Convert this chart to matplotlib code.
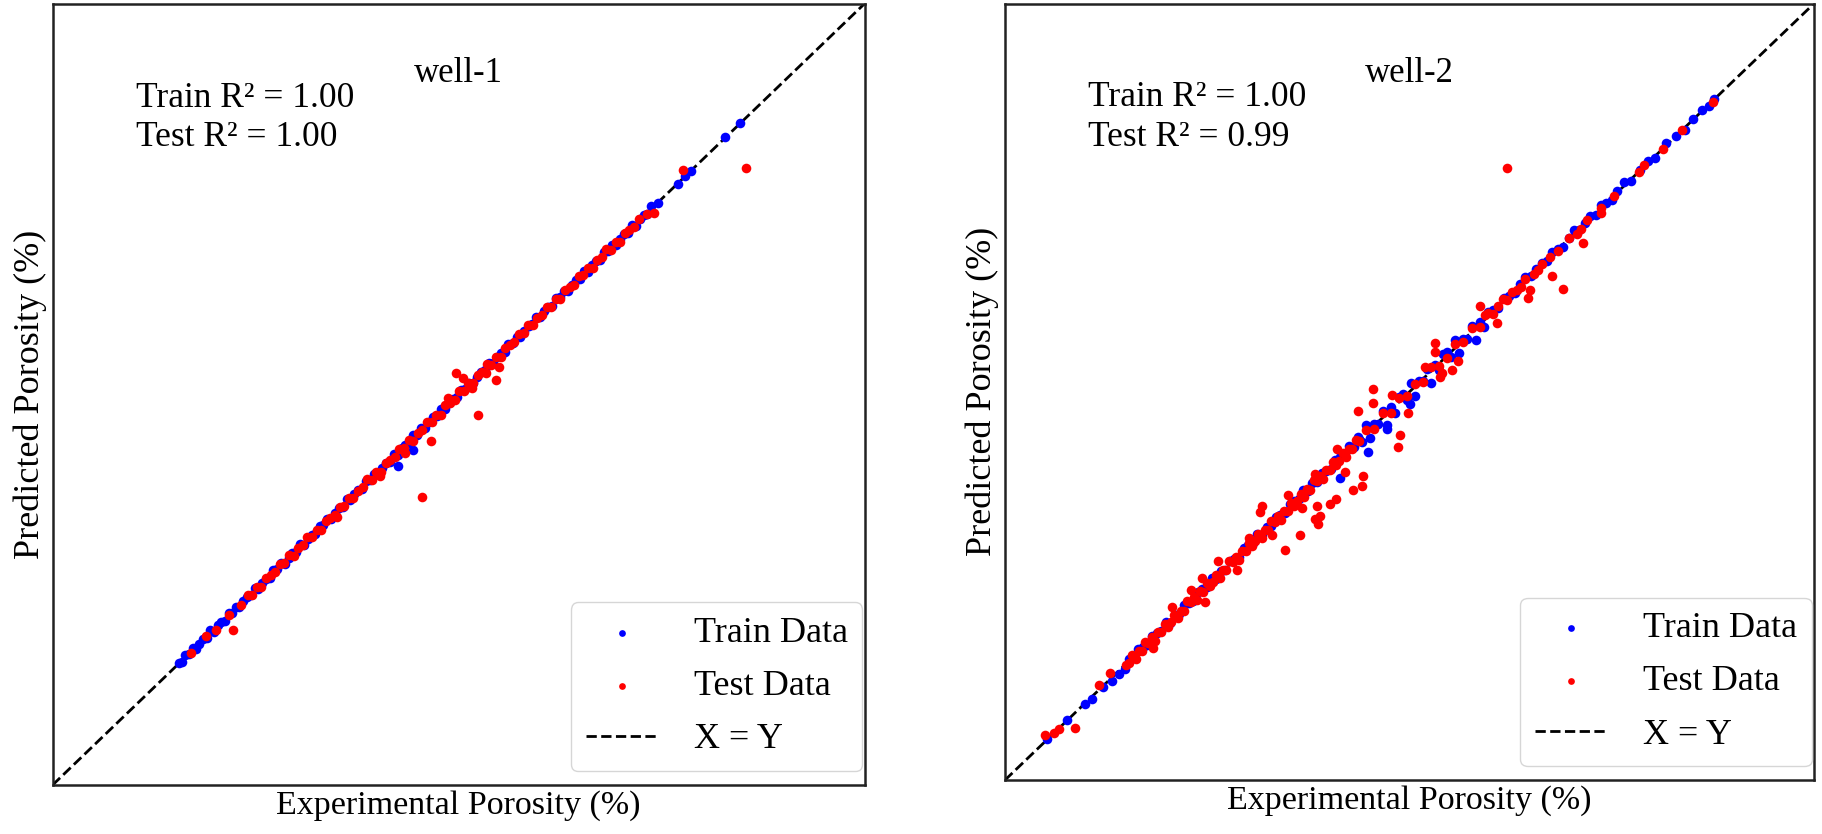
import matplotlib
matplotlib.use('Agg')
import matplotlib.pyplot as plt

plt.rcParams['font.family'] = ['Liberation Serif', 'DejaVu Serif']

# 轴范围（孔隙度 %）
lim = [0, 30]

# ---------- well-1 ----------
w1_train_x = [4.65, 4.78, 4.9, 5.04, 5.17, 5.3, 5.42, 5.55, 5.69, 5.83, 5.96, 6.1, 6.22, 6.36, 6.5, 6.63,
              6.77, 6.9, 7.05, 7.18, 7.32, 7.46, 7.6, 7.73, 7.88, 8.02, 8.15, 8.3, 8.44, 8.58, 8.72, 8.86,
              9.0, 9.15, 9.28, 9.43, 9.57, 9.71, 9.86, 10.0, 10.14, 10.29, 10.43, 10.57, 10.72, 10.86,
              11.0, 11.15, 11.29, 11.44, 11.58, 11.72, 11.87, 12.01, 12.16, 12.3, 12.45, 12.6, 12.74,
              12.89, 13.03, 13.18, 13.33, 13.47, 13.62, 13.77, 13.91, 14.06, 14.2, 14.35, 14.5, 14.64,
              14.79, 14.94, 15.08, 15.23, 15.38, 15.52, 15.67, 15.82, 15.96, 16.11, 16.26, 16.4, 16.55,
              16.7, 16.84, 16.99, 17.14, 17.28, 17.43, 17.58, 17.72, 17.87, 18.02, 18.16, 18.31, 18.46,
              18.6, 18.75, 18.9, 19.04, 19.19, 19.34, 19.48, 19.63, 19.78, 19.92, 20.07, 20.22, 20.36,
              20.51, 20.66, 20.8, 20.95, 21.1, 21.24, 21.39, 21.54, 21.68, 21.83, 21.97, 22.12, 22.35,
              23.1, 23.35, 23.6, 24.85, 25.4, 12.77, 13.32]
w1_train_y = [4.69, 4.72, 4.99, 5.02, 5.24, 5.22, 5.43, 5.6, 5.65, 5.93, 5.89, 6.13, 6.26, 6.3, 6.59, 6.61,
              6.84, 6.82, 7.06, 7.23, 7.28, 7.56, 7.53, 7.76, 7.92, 7.96, 8.24, 8.28, 8.51, 8.5, 8.73, 8.91,
              8.96, 9.25, 9.21, 9.46, 9.61, 9.65, 9.95, 9.98, 10.21, 10.21, 10.44, 10.62, 10.68, 10.96,
              10.93, 11.18, 11.33, 11.38, 11.67, 11.7, 11.94, 11.93, 12.17, 12.35, 12.41, 12.7, 12.67,
              12.92, 13.07, 13.12, 13.42, 13.45, 13.69, 13.69, 13.92, 14.11, 14.16, 14.45, 14.43, 14.67,
              14.83, 14.88, 15.17, 15.21, 15.45, 15.44, 15.68, 15.87, 15.92, 16.21, 16.19, 16.43, 16.59,
              16.64, 16.93, 16.97, 17.21, 17.2, 17.44, 17.63, 17.68, 17.97, 17.95, 18.19, 18.35, 18.4,
              18.69, 18.73, 18.97, 18.96, 19.2, 19.39, 19.44, 19.73, 19.71, 19.95, 20.11, 20.16, 20.45,
              20.49, 20.73, 20.72, 20.96, 21.15, 21.2, 21.49, 21.47, 21.71, 21.87, 21.91, 22.21, 22.33,
              23.08, 23.37, 23.58, 24.87, 25.41, 12.24, 12.86]

w1_test_x = [5.12, 5.65, 6.05, 6.5, 6.95, 7.2, 7.37, 7.54, 7.71, 7.88, 8.05, 8.22, 8.39, 8.56, 8.73, 8.9,
             9.07, 9.24, 9.41, 9.58, 9.75, 9.92, 10.09, 10.26, 10.43, 10.6, 10.77, 10.94, 11.11, 11.28,
             11.45, 11.62, 11.79, 11.96, 12.13, 12.3, 12.47, 12.64, 12.81, 12.98, 13.15, 13.32, 13.49,
             13.66, 13.83, 14.0, 14.17, 14.34, 14.51, 14.68, 14.85, 15.02, 15.19, 15.36, 15.53, 15.7,
             15.87, 16.04, 16.21, 16.38, 16.55, 16.72, 16.89, 17.06, 17.23, 17.4, 17.57, 17.74, 17.91,
             18.08, 18.25, 18.42, 18.59, 18.76, 18.93, 19.1, 19.27, 19.44, 19.61, 19.78, 19.95, 20.12,
             20.29, 20.46, 20.63, 20.8, 20.97, 21.14, 21.31, 21.48, 21.65, 21.95, 22.2,
             6.68, 13.64, 13.97, 14.9, 15.15, 16.5, 16.38, 15.72, 23.3, 25.6,
             14.6, 16.0, 15.5, 10.5, 12.1, 13.0]
w1_test_y = [5.07, 5.73, 5.95, 6.52, 6.92, 7.31, 7.29, 7.59, 7.59, 7.94, 8.05, 8.16, 8.48, 8.51, 8.81, 8.8,
             9.09, 9.21, 9.52, 9.5, 9.8, 9.8, 10.15, 10.26, 10.37, 10.69, 10.72, 11.02, 11.01, 11.3,
             11.42, 11.73, 11.71, 12.01, 12.01, 12.36, 12.47, 12.58, 12.9, 12.93, 13.23, 13.22, 13.51,
             13.63, 13.94, 13.92, 14.22, 14.22, 14.57, 14.68, 14.79, 15.11, 15.14, 15.44, 15.43, 15.72,
             15.84, 16.15, 16.13, 16.43, 16.43, 16.78, 16.89, 17.0, 17.32, 17.35, 17.65, 17.64, 17.93,
             18.05, 18.36, 18.34, 18.64, 18.64, 18.99, 19.1, 19.21, 19.53, 19.56, 19.86, 19.85, 20.14,
             20.26, 20.57, 20.55, 20.85, 20.85, 21.2, 21.31, 21.42, 21.74, 21.9, 21.95,
             5.94, 11.04, 13.22, 15.8, 15.63, 16.05, 15.54, 14.19, 23.6, 23.7,
             14.85, 15.8, 15.25, 10.3, 11.85, 12.75]

# ---------- well-2 ----------
w2_train_x = [1.55, 2.3, 2.98, 3.22, 3.65, 3.97, 4.21, 4.46,
              4.6, 4.77, 4.94, 5.11, 5.28, 5.45, 5.62, 5.79, 5.96, 6.13, 6.3, 6.47, 6.64, 6.81, 6.98,
              7.15, 7.32, 7.49, 7.66, 7.83, 8.0, 8.17, 8.34, 8.51, 8.68, 8.85, 9.02, 9.19, 9.36, 9.53,
              9.7, 9.87, 10.04, 10.21, 10.38, 10.55, 10.72, 10.89, 11.06, 11.23, 11.4, 11.57, 11.74,
              11.91, 12.08, 12.25, 12.42, 12.59, 12.76, 12.93,
              13.1, 13.25, 13.4, 13.55, 13.7, 13.85, 14.0, 14.15, 14.3, 14.45, 14.6, 14.75, 14.9, 15.05,
              15.2, 15.35, 15.5, 15.65, 15.8, 15.95, 16.1, 16.25, 16.4, 16.55, 16.7, 16.85, 17.0, 17.15,
              17.3, 17.45, 17.6, 17.75, 17.9, 15.02, 14.15, 13.47, 12.43,
              18.1, 18.3, 18.5, 18.7, 18.9, 19.1, 19.3, 19.5, 19.7, 19.9, 20.1, 20.3, 20.5, 20.7, 20.9,
              21.1, 21.3, 21.5, 21.7, 21.9, 22.1, 22.3, 22.5, 22.7, 22.95, 23.2, 23.55, 23.85, 24.1,
              24.5, 24.9, 25.2, 25.5, 25.85, 26.1, 26.3]
w2_train_y = [1.6, 2.33, 2.93, 3.13, 3.58, 3.83, 4.09, 4.28,
              4.68, 4.73, 5.06, 5.13, 5.21, 5.55, 5.67, 5.77, 6.09, 6.08, 6.38, 6.43, 6.76, 6.83, 6.91,
              7.25, 7.37, 7.47, 7.79, 7.78, 8.08, 8.13, 8.46, 8.53, 8.61, 8.95, 9.07, 9.17, 9.49, 9.48,
              9.78, 9.83, 10.16, 10.23, 10.31, 10.65, 10.77, 10.87, 11.19, 11.18, 11.48, 11.53, 11.86,
              11.93, 12.01, 12.35, 12.47, 12.57, 12.89, 12.88,
              13.25, 13.05, 13.7, 13.2, 13.75, 13.75, 14.25, 13.7, 14.4, 14.2, 14.8, 14.9, 14.7, 15.35,
              14.85, 15.4, 15.4, 15.9, 15.35, 16.05, 15.85, 16.45, 16.55, 16.35, 17.0, 16.5, 17.05, 17.05,
              17.55, 17.0, 17.7, 17.5, 18.1, 14.51, 13.55, 12.69, 11.68,
              18.18, 18.25, 18.62, 18.7, 18.8, 19.16, 19.45, 19.46, 19.73, 19.98, 20.05, 20.42, 20.5,
              20.6, 20.96, 21.25, 21.26, 21.53, 21.78, 21.85, 22.22, 22.3, 22.4, 22.76, 23.1, 23.16,
              23.58, 23.93, 24.05, 24.62, 24.9, 25.1, 25.56, 25.9, 26.06, 26.33]

w2_test_x = [1.5, 1.8, 1.99, 2.6, 3.47, 3.88, 4.5,
             4.6, 4.72, 4.84, 4.96, 5.08, 5.2, 5.32, 5.44, 5.56, 5.68, 5.8, 5.92, 6.04, 6.16, 6.28, 6.4,
             6.52, 6.64, 6.76, 6.88, 7.0, 7.12, 7.24, 7.36, 7.48, 7.6, 7.72, 7.84, 7.96, 8.08, 8.2,
             8.32, 8.44, 8.56, 8.68, 8.8, 8.92, 9.04, 9.16, 9.28, 9.4, 9.52, 9.64, 9.76, 9.88, 10.0,
             10.12, 10.24, 10.36, 10.48, 10.6, 10.72, 10.84, 10.96, 11.08, 11.2, 11.32, 11.44, 11.56,
             11.68, 11.8, 11.92, 12.04, 12.16, 12.28, 12.4, 12.52, 12.64, 12.76, 12.88, 13.0, 13.12,
             6.2, 7.9, 8.6, 9.9, 10.5, 5.5, 6.9, 11.0, 12.3, 12.6,
             7.3, 7.42, 9.46, 9.06, 10.39, 10.94, 11.5, 11.62, 12.05, 12.28, 11.5, 9.52, 11.56, 11.69,
             12.92, 13.29, 13.23,
             13.4, 13.7, 14.0, 14.3, 14.6, 14.9, 15.2, 15.5, 15.8, 16.1, 16.4, 16.7, 17.0, 17.3, 17.6,
             17.9, 13.66, 13.66, 13.1, 14.34, 14.96, 14.65, 14.59, 15.95, 15.95, 16.56, 16.19, 17.61,
             18.23, 16.81, 15.57, 16.13,
             18.3, 18.6, 18.8, 19.0, 19.3, 19.6, 19.9, 20.2, 20.5, 20.9, 21.2, 21.35, 21.6, 22.1, 22.6,
             23.5, 23.7, 24.4, 25.1, 26.25, 17.8, 18.1, 18.45, 19.15, 19.75,
             21.44, 20.27, 20.7, 19.46, 19.4, 18.62, 22.12]
w2_test_y = [1.74, 1.8, 1.97, 2.03, 3.68, 4.12, 4.44,
             4.54, 4.82, 4.69, 4.99, 4.98, 5.34, 5.3, 5.51, 5.38, 5.73, 5.72, 6.04, 5.92, 6.1, 6.38, 6.25,
             6.55, 6.54, 6.9, 6.86, 7.07, 6.94, 7.29, 7.28, 7.6, 7.48, 7.66, 7.94, 7.81, 8.11, 8.1,
             8.46, 8.42, 8.63, 8.5, 8.85, 8.84, 9.16, 9.04, 9.22, 9.5, 9.37, 9.67, 9.66, 10.02, 9.98,
             10.19, 10.06, 10.41, 10.4, 10.72, 10.6, 10.78, 11.06, 10.93, 11.23, 11.22, 11.58, 11.54,
             11.75, 11.62, 11.97, 11.96, 12.28, 12.16, 12.34, 12.62, 12.49, 12.79, 12.78, 13.14, 13.1,
             6.7, 8.45, 8.1, 9.45, 11.0, 5.1, 7.35, 10.5, 12.8, 11.9,
             7.82, 6.86, 10.34, 9.34, 8.88, 9.46, 10.08, 9.91, 10.68, 10.85, 11.81, 10.6, 10.57, 10.22,
             11.21, 11.73, 11.37,
             13.52, 13.55, 14.18, 14.2, 14.75, 14.82, 15.3, 15.38, 15.95, 16.0, 16.3, 16.85, 16.92,
             17.45, 17.5, 18.05, 15.1, 14.56, 14.24, 14.88, 14.18, 13.33, 12.86, 16.9, 16.55, 15.84,
             15.71, 18.3, 17.66, 16.18, 15.96, 15.59,
             18.32, 18.55, 18.86, 18.95, 19.35, 19.55, 19.95, 20.2, 20.45, 20.95, 21.1, 21.3, 21.62,
             22.1, 22.55, 23.48, 23.75, 24.4, 25.1, 26.2, 17.95, 18.0, 18.6, 19.05, 19.7,
             20.75, 19.46, 18.99, 18.92, 18.62, 23.66, 21.9]

wells = ['well-1', 'well-2']
train_r2 = ['1.00', '1.00']
test_r2 = ['1.00', '0.99']

fig = plt.figure(figsize=(18.22, 8.34), dpi=100)
ax1 = fig.add_axes([0.0289, 0.0588, 0.4457, 0.937])
ax2 = fig.add_axes([0.5516, 0.0647, 0.444, 0.931])

panels = [(ax1, w1_train_x, w1_train_y, w1_test_x, w1_test_y),
          (ax2, w2_train_x, w2_train_y, w2_test_x, w2_test_y)]

for i, (ax, tx, ty, sx, sy) in enumerate(panels):
    ln, = ax.plot(lim, lim, 'k--', lw=2, zorder=1)
    h1 = ax.scatter(tx, ty, s=48, c='blue', linewidths=0, zorder=2)
    h2 = ax.scatter(sx, sy, s=48, c='red', linewidths=0, zorder=3)
    ax.set_xlim(lim)
    ax.set_ylim(lim)
    ax.set_xticks([])
    ax.set_yticks([])
    for sp in ax.spines.values():
        sp.set_linewidth(1.8)
        sp.set_color('#222222')
    ax.set_xlabel('Experimental Porosity (%)', fontsize=24.5)
    ax.set_ylabel('Predicted Porosity (%)', fontsize=26)
    ax.text(0.5, 0.91, wells[i], transform=ax.transAxes, ha='center', va='center', fontsize=25)
    ax.text(0.103, 0.9, 'Train R² = ' + train_r2[i] + '\nTest R² = ' + test_r2[i],
            transform=ax.transAxes, ha='left', va='top', fontsize=25.5, linespacing=1.27)
    ax.legend([h1, h2, ln], ['Train Data', 'Test Data', 'X = Y'], loc='lower right',
              bbox_to_anchor=(0.997, 0.018), borderaxespad=0, fontsize=26,
              labelspacing=0.55, handletextpad=1.0, markerscale=0.7)

fig.savefig('out.png', dpi=100)
